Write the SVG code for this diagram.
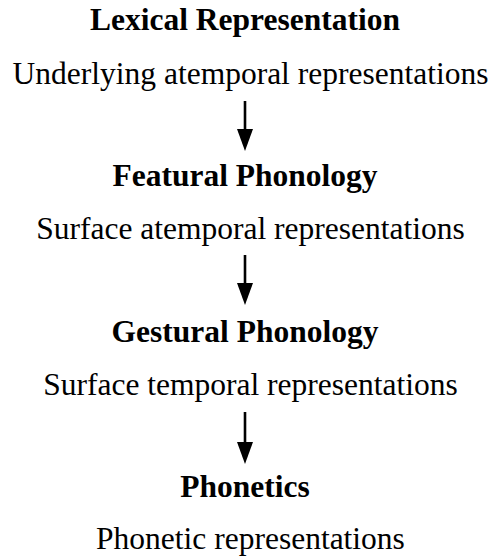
<svg xmlns="http://www.w3.org/2000/svg" width="493" height="559" viewBox="0 0 493 559">
  <style>
    .title { font-family: "Liberation Serif", "Times New Roman", serif; font-weight: bold; font-size: 31.5px; fill: #000; text-anchor: middle; }
    .sub { font-family: "Liberation Serif", "Times New Roman", serif; font-size: 31.5px; fill: #000; text-anchor: middle; }
    .conn { stroke: #000; stroke-width: 2.6; fill: none; marker-end: url(#head); }
  </style>
  <defs>
    <marker id="head" viewBox="0 0 22 16" refX="0" refY="8" markerWidth="22" markerHeight="16" markerUnits="userSpaceOnUse" orient="auto">
      <path d="M0,0 L22,8 L0,16 Z" fill="#000"/>
    </marker>
  </defs>
  <rect width="493" height="559" fill="#fff"/>
  <g id="lexical">
    <text class="title" x="245" y="30">Lexical Representation</text>
    <text class="sub" x="250.5" y="84">Underlying atemporal representations</text>
  </g>
  <g id="featural">
    <text class="title" x="245" y="186">Featural Phonology</text>
    <text class="sub" x="250.5" y="239">Surface atemporal representations</text>
  </g>
  <g id="gestural">
    <text class="title" x="245" y="342">Gestural Phonology</text>
    <text class="sub" x="250.5" y="395">Surface temporal representations</text>
  </g>
  <g id="phonetics">
    <text class="title" x="245" y="497">Phonetics</text>
    <text class="sub" x="250.5" y="549">Phonetic representations</text>
  </g>
  <g id="connectors">
    <line class="conn" x1="245" y1="101" x2="245" y2="129"/>
    <line class="conn" x1="245" y1="255" x2="245" y2="283"/>
    <line class="conn" x1="245" y1="412" x2="245" y2="442"/>
  </g>
</svg>
